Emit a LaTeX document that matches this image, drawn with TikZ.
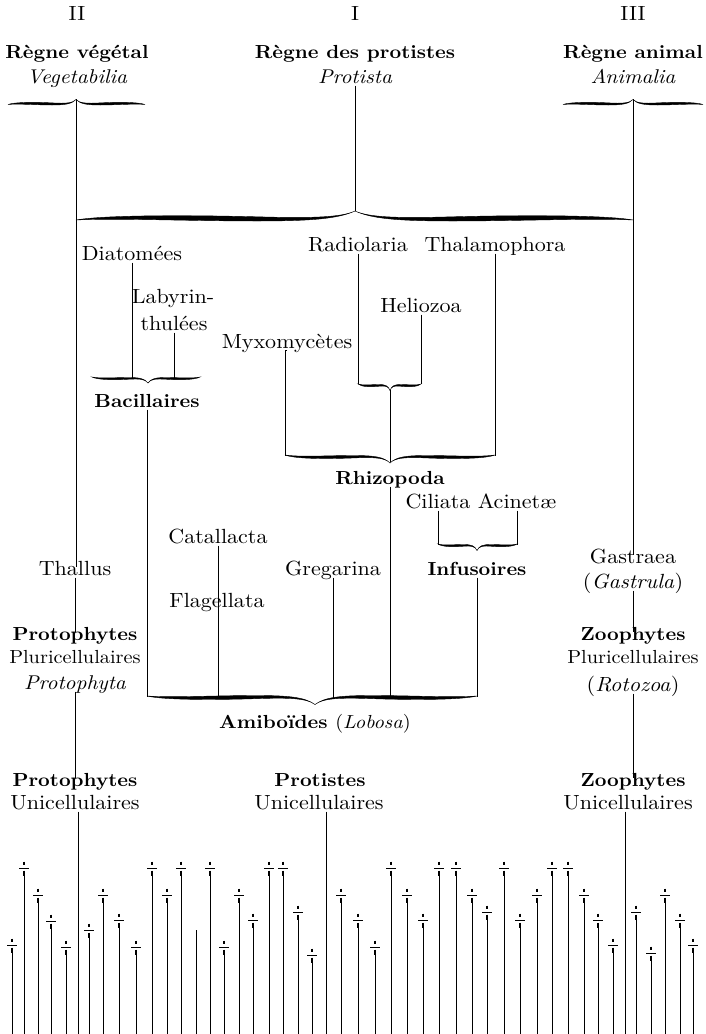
\documentclass[tikz,border=0pt]{standalone}
\usepackage{fontspec}
\setmainfont{lmroman10-regular.otf}[
  BoldFont=lmroman10-bold.otf,
  ItalicFont=lmroman10-italic.otf,
  BoldItalicFont=lmroman10-bolditalic.otf]
\usetikzlibrary{calc}

% one arm of a swelling typographic brace, drawn left of the cusp
% #1 arm length, #2 swell thickness, #3 cusp height, #4 end curl
\newcommand\bhalf[4]{%
  \pgfmathsetmacro\bw{#1}%
  \filldraw[line width=0.4pt] (-\bw,-#4)
    .. controls ({-0.9*\bw},0) and ({-0.6*\bw},0) .. ({-0.35*\bw},{-0.3*#2})
    .. controls ({-0.15*\bw},{-0.55*#2}) and ({-0.05*\bw},{-0.4*#2}) .. (0,#3)
    .. controls ({-0.06*\bw},{-0.6*#2}) and ({-0.15*\bw},{-#2}) .. ({-0.35*\bw},{-#2})
    .. controls ({-0.6*\bw},{-#2}) and ({-0.85*\bw},{-0.5*#2}) .. (-\bw,-#4) -- cycle;}
% full brace: #1 left x, #2 cusp x, #3 right x, #4 base y,
% #5 -1 = cusp up / 1 = cusp down, #6 thickness, #7 cusp height, #8 end curl
\newcommand\tbrace[8]{%
  \begin{scope}[shift={(#2,#4)},yscale=#5]
    \bhalf{#2-#1}{#6}{#7}{#8}
    \begin{scope}[xscale=-1]\bhalf{#3-#2}{#6}{#7}{#8}\end{scope}
  \end{scope}}

\begin{document}
\begin{tikzpicture}[x=1pt,y=-1pt,
  tx/.style={inner sep=0pt, outer sep=2pt, text height=0.7em, text depth=0pt,
             xscale=1.075, transform shape},
  rm/.style={tx, font=\fontsize{20.5}{23}\selectfont},
  sm/.style={tx, font=\fontsize{18.9}{21}\selectfont},
  bf/.style={tx, font=\fontsize{18.9}{21}\selectfont\bfseries},
  it/.style={tx, font=\fontsize{19.9}{22}\selectfont\itshape},
  ln/.style={line width=0.95pt},
  dagg/.style={inner sep=0pt, minimum width=11pt, minimum height=15pt,
    path picture={
      \draw[line width=0.9pt] ([xshift=-5pt]path picture bounding box.center)
        -- ([xshift=5pt]path picture bounding box.center);
      \draw[line width=1.4pt] ([yshift=6.5pt]path picture bounding box.center)
        -- ([yshift=3.5pt]path picture bounding box.center);
      \draw[line width=1.4pt] ([yshift=-2.5pt]path picture bounding box.center)
        -- ([yshift=-7.5pt]path picture bounding box.center);
    }}]
\useasboundingbox (0,0) rectangle (706,1034);
\coordinate (floor) at (0,1034);

% --- the three kingdoms ---
\node[rm] (n2) at (77,17) {II};
\node[rm] (n1) at (355,17) {I};
\node[rm] (n3) at (633,17) {III};
\node[bf] (veg) at (77,55) {Règne végétal};
\node[bf] (pro) at (355,55) {Règne des protistes};
\node[bf] (ani) at (633,55) {Règne animal};
\node[it] (vegl) at (77,80) {Vegetabilia};
\node[it] (prol) at (355,80) {Protista};
\node[it] (anil) at (633,80) {Animalia};

% --- braces ---
\tbrace{8}{76}{145}{102}{-1}{3}{2.5}{2.5}
\tbrace{563}{633}{703}{102}{-1}{3}{2.5}{2.5}
\tbrace{76}{355}{633}{215}{-1}{6}{4}{5}
\tbrace{92}{148}{200}{380}{1}{2.5}{3}{3}
\tbrace{358}{390}{421}{387}{1}{2.5}{3.5}{3}
\tbrace{285}{390}{495}{459}{1}{3.5}{4}{4}
\tbrace{438}{477}{517}{547}{1}{2.5}{3.5}{3}
\tbrace{147}{315}{477}{700}{1}{4.5}{4.5}{4}

\coordinate (vegC) at (76,99);
\coordinate (aniC) at (633,99);
\coordinate (bigC) at (355,211);
\coordinate (bacL) at (132,379);
\coordinate (bacR) at (174,379);
\coordinate (radL) at (358,384);
\coordinate (radR) at (421,384);
\coordinate (radC) at (390,390);
\coordinate (rhiL) at (285,456);
\coordinate (rhiR) at (495,456);
\coordinate (rhiC) at (390,462);
\coordinate (infL) at (438,545);
\coordinate (infR) at (517,545);
\coordinate (amB) at (147,697);
\coordinate (amC) at (218,699);
\coordinate (amG) at (333,699);
\coordinate (amR) at (390,699);
\coordinate (amI) at (477,697);

% --- protist groups ---
\node[rm] (dia) at (132,257) {Diatomées};
\node[rm] (lab1) at (173,300) {Labyrin-};
\node[rm] (lab2) at (174,327) {thulées};
\node[rm] (rad) at (358,248) {Radiolaria};
\node[rm] (tha) at (495,248) {Thalamophora};
\node[rm] (hel) at (421,309) {Heliozoa};
\node[rm] (myx) at (287,345) {Myxomycètes};
\node[bf] (bac) at (147,404) {Bacillaires};
\node[bf] (rhi) at (390,481) {Rhizopoda};
\node[rm] (cil) at (438,505) {Ciliata};
\node[rm] (aci) at (517,505) {Acinetæ};
\node[rm] (cat) at (218,540) {Catallacta};
\node[rm] (gre) at (333,572) {Gregarina};
\node[bf] (inf) at (477,572) {Infusoires};
\node[rm] (fla) at (217,604) {Flagellata};
\node[bf] (ami) at (315,725) {Amiboïdes {\mdseries(\itshape Lobosa\/\upshape)}};

% --- plant column ---
\node[rm] (thal) at (75,572) {Thallus};
\node[bf] (pp1) at (75,637) {Protophytes};
\node[sm] (pp2) at (75,660) {Pluricellulaires};
\node[it] (pp3) at (75,686) {Protophyta};
\node[bf] (pu1) at (75,783) {Protophytes};
\node[rm] (pu2) at (75,806) {Unicellulaires};

% --- animal column ---
\node[rm] (gas1) at (633,560) {Gastraea};
\node[rm] (gas2) at (633,585) {(\textit{Gastrula})};
\node[bf] (zp1) at (633,637) {Zoophytes};
\node[sm] (zp2) at (633,660) {Pluricellulaires};
\node[rm] (zp3) at (633,688) {(\textit{Rotozoa})};
\node[bf] (zu1) at (633,783) {Zoophytes};
\node[rm] (zu2) at (628,806) {Unicellulaires};

% --- protist column ---
\node[bf] (pc1) at (320,783) {Protistes};
\node[rm] (pc2) at (319,806) {Unicellulaires};

% --- connectors ---
\draw[ln] (vegC) -- (vegC |- thal.north);
\draw[ln] (thal.south) -- (pp1.north);
\draw[ln] (pp3.south) -- (pu1.north);
\draw[ln] (aniC) -- (gas1.north);
\draw[ln] (gas2.south) -- (zp1.north);
\draw[ln] (zp3.south) -- (zu1.north);
\draw[ln] (prol.south) -- (bigC);
\draw[ln] (dia.south) -- (bacL);
\draw[ln] (lab2.south) -- (bacR);
\draw[ln] (bac.south) -- (amB);
\draw[ln] (rad.south) -- (radL);
\draw[ln] (hel.south) -- (radR);
\draw[ln] (radC) -- (rhiC);
\draw[ln] (myx.south) -- (myx.south -| rhiL) -- (rhiL);
\draw[ln] (tha.south) -- (rhiR);
\draw[ln] (rhi.south) -- (amR);
\draw[ln] (cil.south) -- (infL);
\draw[ln] (aci.south) -- (infR);
\draw[ln] (inf.south) -- (amI);
\draw[ln] (cat.south) -- (amC);
\draw[ln] (gre.south) -- (amG);

% --- descending lineages ---
\coordinate (puX) at ($(pu2.south)+(3,0)$);
\coordinate (pcX) at ($(pc2.south)+(7,0)$);
\coordinate (zuX) at ($(zu2.south)+(-3,0)$);
\draw[ln] (puX) -- (puX |- floor);
\draw[ln] (pcX) -- (pcX |- floor);
\draw[ln] (zuX) -- (zuX |- floor);
\coordinate (stub) at (196,930);
\draw[ln] (stub) -- (stub |- floor);

\foreach \dx/\dy [count=\i] in {12/945, 24/868, 38/895, 51/921, 66/947, 89/930,
    103/895, 119/920, 136/947, 152/868, 167/895, 181/868, 210/868, 224/947,
    239/895, 253/920, 269/868, 283/868, 298/912, 312/955, 341/895, 358/920,
    375/947, 391/868, 407/895, 423/920, 439/868, 456/868, 472/895, 487/912,
    504/868, 520/920, 537/895, 552/868, 568/868, 584/895, 598/920, 613/945,
    636/912, 651/953, 665/895, 680/920, 693/945} {
  \node[dagg] (k\i) at (\dx,\dy) {};
  \draw[ln] (k\i.south) -- (k\i.south |- floor);
}
\end{tikzpicture}
\end{document}
